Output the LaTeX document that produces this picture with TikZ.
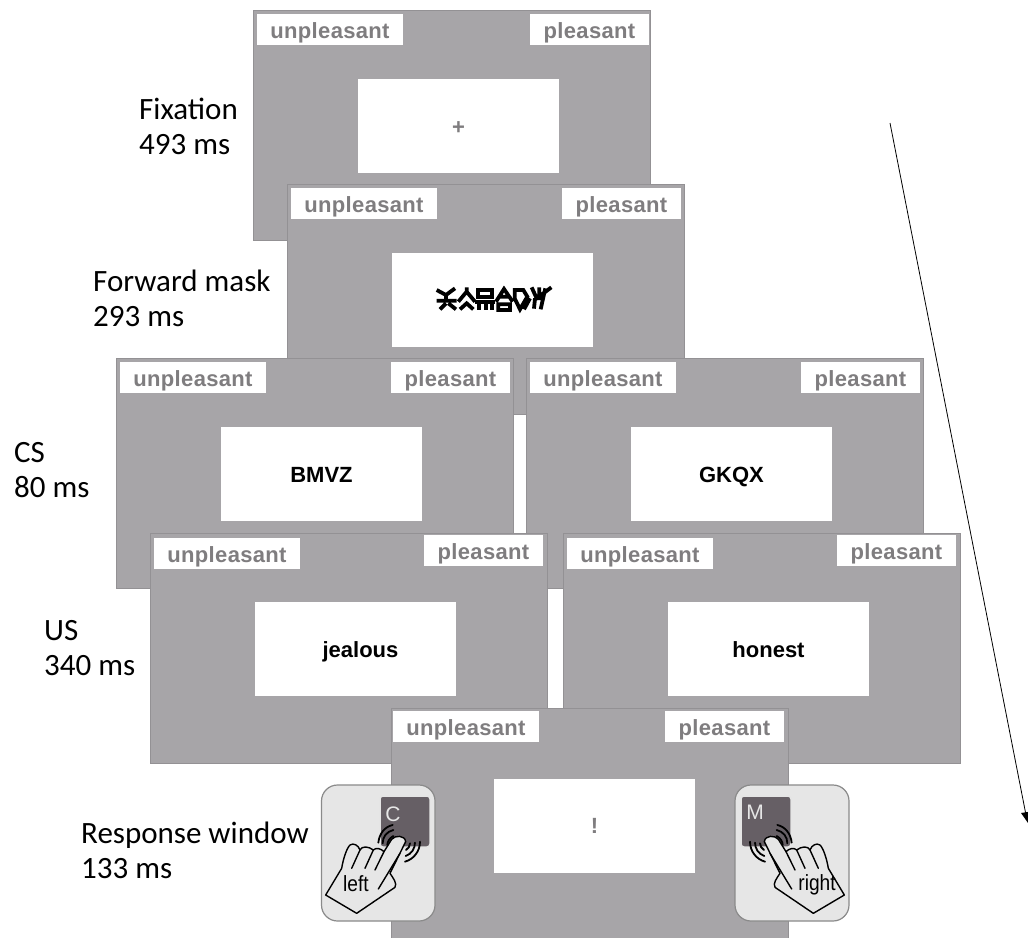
\documentclass[tikz,border=0pt]{standalone}
\usepackage{fontspec}
\setmainfont{Carlito}
\newfontfamily\arialf{Liberation Sans}
\definecolor{framegray}{HTML}{A7A5A8}
\definecolor{frameedge}{HTML}{939194}
\definecolor{labelgray}{HTML}{7F7D7F}
\definecolor{keydark}{HTML}{665F65}
\definecolor{padgray}{HTML}{E6E6E6}
\definecolor{padedge}{HTML}{8A8A8A}
\tikzset{
  trial/.style={draw=frameedge,line width=1pt,fill=framegray,minimum width=397pt,minimum height=230pt,inner sep=0pt,outer sep=0pt,anchor=north west},
  tag/.style={fill=white,inner sep=0pt,outer sep=0pt,minimum height=31pt,text height=18pt,text depth=0pt,font=\arialf\bfseries\fontsize{22}{22}\selectfont\addfontfeature{LetterSpace=1.5},text=labelgray},
  stimbox/.style={fill=white,inner sep=0pt,outer sep=0pt,minimum width=201pt,minimum height=94pt,text height=16pt,text depth=0pt,font=\arialf\bfseries\fontsize{22}{22}\selectfont},
  caption/.style={anchor=west,align=left,inner sep=0pt,font=\fontsize{31}{35}\selectfont},
  pad/.style={draw=padedge,line width=1.2pt,fill=padgray,rounded corners=16pt},
  keycap/.style={draw=white!90!black,line width=1.5pt,fill=keydark,rounded corners=3pt},
  handline/.style={line width=1.4pt,line join=round,line cap=round},
  wave/.style={line width=1.8pt,line cap=round},
  keylabel/.style={text=padgray,font=\arialf\fontsize{21}{22}\selectfont,inner sep=0pt},
  handlabel/.style={font=\arialf\fontsize{22}{22}\selectfont,inner sep=0pt}
}
\def\stimdx{205.5pt}
\def\stimdy{-116pt}
% name, x, y, stimulus, pleasant dy, unpleasant dx, unpleasant dy, pleasant dx
\newcommand{\trialframe}[8]{%
  \node[trial] (#1) at (#2,#3) {};
  \node[tag,minimum width=146pt,anchor=north west] (#1u) at ([xshift=#6,yshift=#7]#1.north west) {unpleasant};
  \node[tag,minimum width=119pt,anchor=north west] (#1p) at ([xshift=#8,yshift=#5]#1.north west) {pleasant};
  \node[stimbox] (#1s) at ([xshift=\stimdx,yshift=\stimdy]#1.north west) {#4};
}
\newcommand{\handshape}{%
  \draw[handline,fill=padgray] (47,375) -- (95,295) .. controls (100,265) and (110,235) .. (120,225) .. controls (130,218) and (145,225) .. (150,240)
     .. controls (155,228) and (175,228) .. (190,240) .. controls (198,232) and (212,235) .. (222,245) -- (245,208)
     .. controls (255,195) and (285,195) .. (287,215) -- (240,310) .. controls (250,325) and (262,340) .. (255,352) -- (140,430) -- cycle;
  \draw[handline] (150,240) -- (125,295) (190,240) -- (165,295) (222,245) -- (195,300) (270,250) -- (205,357);
  \draw[wave] (205,218) .. controls (208,190) and (225,170) .. (248,165) (218,220) .. controls (218,200) and (230,185) .. (250,180) (232,225) .. controls (232,215) and (238,205) .. (250,198);
  \draw[wave] (285,275) .. controls (310,268) and (330,245) .. (330,215) (287,258) .. controls (305,252) and (315,235) .. (315,218) (288,240) .. controls (295,236) and (300,228) .. (300,220);
}
\begin{document}
\begin{tikzpicture}[x=1pt,y=-1pt]
\useasboundingbox (0,0) rectangle (1028,937);
\fill[white] (0,0) rectangle (1028,937);
\trialframe{fa}{253}{10}{\textcolor{labelgray}{+}}{-4pt}{4pt}{-4pt}{277pt}
\trialframe{fb}{287}{184}{}{-4pt}{4pt}{-4pt}{275pt}
\trialframe{fc}{116}{358}{BMVZ}{-4pt}{4pt}{-4pt}{275pt}
\trialframe{fd}{526}{358}{GKQX}{-4pt}{4pt}{-4pt}{275pt}
\trialframe{fe}{150}{533}{\hspace{10pt}jealous}{-2pt}{4pt}{-5pt}{274pt}
\trialframe{ff}{563}{533}{honest}{-2pt}{4pt}{-5pt}{274pt}
\def\stimdx{203.5pt}\def\stimdy{-117.5pt}
\trialframe{fg}{391}{708}{\textcolor{labelgray}{!}}{-3pt}{2pt}{-3pt}{274pt}
\begin{scope}[shift={(420,270)},x=0.3333pt,y=-0.3333pt,line width=3.8pt,black,line cap=butt,line join=miter]
 \draw (50,60) -- (78,75) -- (105,55) (78,75) -- (78,92) (50,92) -- (110,92) (60,118) -- (78,100) (85,100) -- (108,118);
 \draw (115,95) -- (140,65) -- (165,95) (140,65) -- (140,52) (120,118) -- (140,100) -- (160,118);
 \draw (175,60) rectangle (215,80) (165,95) -- (225,95) (178,100) -- (178,120) (198,100) -- (198,120) (215,100) -- (215,120);
 \draw (228,95) -- (252,57) -- (278,95) (235,80) -- (268,80) (235,103) rectangle (270,120);
 \draw (284,60) -- (310,60) -- (322,80) -- (300,118) -- (284,85) -- cycle (312,118) -- (330,85);
 \draw (335,52) -- (350,85) -- (394,52) (358,52) -- (358,90) (376,55) -- (362,118) (345,85) -- (342,116);
\end{scope}
\node[caption] (capa) at (139,126) {Fixation\\493 ms};
\node[caption] (capb) at (93,298) {Forward mask\\293 ms};
\node[caption] (capc) at (14,470) {CS\\80 ms};
\node[caption] (capd) at (44,648) {US\\340 ms};
\node[caption] (cape) at (81,850) {Response window\\133 ms};
\draw[pad] (321.5,785) rectangle (435,921);
\draw[keycap] (380,796) rectangle (430,847);
\node[keylabel] (kc) at (393,814) {C};
\begin{scope}[shift={(310,770)},x=0.3333pt,y=-0.3333pt]
  \handshape
\end{scope}
\node[handlabel] (kl) at (356,884) {\scalebox{.87}[1]{left}};
\draw[pad] (735,785) rectangle (849,921);
\draw[keycap] (741,796) rectangle (791,847);
\node[keylabel] (km) at (755,812) {M};
\begin{scope}[shift={(860,770)},x=-0.3333pt,y=-0.3333pt]
  \handshape
\end{scope}
\node[handlabel] (kr) at (817,885) {\scalebox{.87}[1]{right}};
\coordinate (ts) at (890,123);
\coordinate (te) at (1026,815);
\draw[line width=0.8pt] (ts) -- (te);
\fill (1028,823) -- (1021,813) -- (1034,811) -- cycle;
\end{tikzpicture}
\end{document}
